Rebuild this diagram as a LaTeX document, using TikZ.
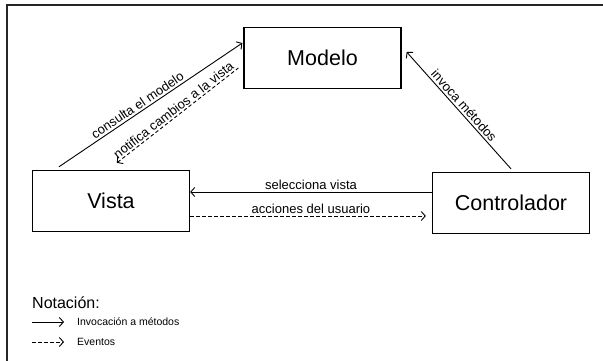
\documentclass[tikz,border=0pt]{standalone}
\usepackage{fontspec}
\setmainfont{Liberation Sans}
\usetikzlibrary{arrows.meta, positioning}

\begin{document}
\begin{tikzpicture}[x=1pt, y=1pt,
  box/.style={draw, rectangle, line width=1.3pt, minimum width=157pt, minimum height=61pt, font=\fontsize{21.5}{26}\selectfont},
  call/.style={-{Straight Barb[length=4pt,width=9pt]}, line width=0.9pt},
  backcall/.style={{Straight Barb[length=4pt,width=9pt]}-, line width=0.9pt},
  event/.style={call, dash pattern=on 3.5pt off 2.5pt},
  backevent/.style={backcall, dash pattern=on 3.5pt off 2.5pt},
  lbl/.style={font=\fontsize{13}{15}\selectfont, inner sep=2pt},
  legend/.style={font=\fontsize{10.5}{12}\selectfont, anchor=west, inner sep=0pt}]
  % Page and outer frame
  \useasboundingbox (0,0) rectangle (603,360);
  \fill[white] (0,0) rectangle (603,360);
  \draw[line width=1.3pt, black!85] (7,355) rectangle (640,-40);

  % Components
  \node[box] (modelo) at (322.5,302) {Modelo};
  \node[box] (vista) at (111,159) {Vista};
  \node[box] (controlador) at (511,157) {Controlador};

  % Arrows
  \draw[call] ([xshift=27pt,yshift=3pt]vista.north west) -- ([xshift=-1pt,yshift=15pt]modelo.west)
    node[lbl, pos=0.45, sloped, above] {consulta el modelo};
  \draw[backevent] ([xshift=85pt,yshift=7pt]vista.north west) -- ([xshift=-5pt,yshift=-10pt]modelo.west)
    node[lbl, pos=0.5, sloped, above, inner sep=1.5pt] {notifica cambios a la vista};
  \draw[backcall] ([xshift=5pt,yshift=6pt]modelo.east) -- ([yshift=3pt]controlador.north)
    node[lbl, pos=0.5, sloped, above] {invoca métodos};
  \draw[call] ([yshift=11pt]controlador.west) -- ([yshift=9pt]vista.east)
    node[lbl, midway, above] {selecciona vista};
  \draw[event, shorten >=6pt] ([yshift=-15pt]vista.east) -- ([yshift=-13pt]controlador.west)
    node[lbl, midway, above] {acciones del usuario};

  % Legend
  \node[anchor=west, inner sep=0pt, font=\fontsize{16}{19}\selectfont] (notacion) at (32,57) {Notación:};
  \node[legend] (leginv) at (77,38) {Invocación a métodos};
  \node[legend] (legev) at (77,18) {Eventos};
  \draw[call] ([xshift=-45pt]leginv.west) -- ([xshift=-13pt]leginv.west);
  \draw[event] ([xshift=-45pt]legev.west) -- ([xshift=-13pt]legev.west);
\end{tikzpicture}
\end{document}
